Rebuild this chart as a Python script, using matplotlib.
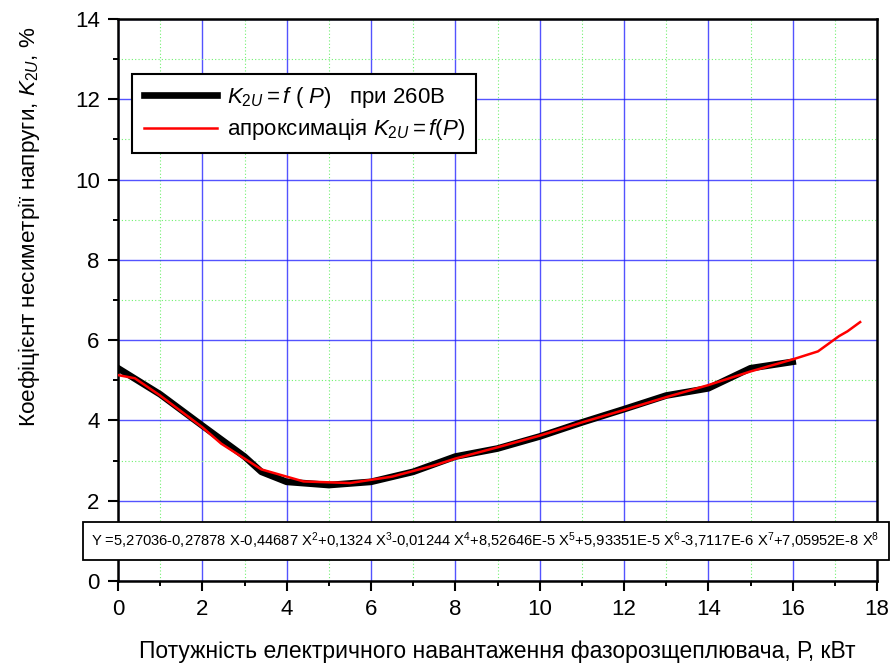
import matplotlib
matplotlib.use('Agg')
import matplotlib.pyplot as plt
from matplotlib.ticker import MultipleLocator

plt.rcParams['font.family'] = ['Liberation Sans', 'DejaVu Sans']
plt.rcParams['mathtext.fontset'] = 'custom'
plt.rcParams['mathtext.rm'] = 'Liberation Sans'
plt.rcParams['mathtext.it'] = 'Liberation Sans:italic'

# measured curve K2U = f(P) at 260 V
p_meas = [0, 1, 2, 3, 3.4, 4, 5, 6, 7, 8, 9, 10, 11, 12, 13, 14, 15, 16]
k_meas = [5.3, 4.65, 3.87, 3.1, 2.72, 2.47, 2.39, 2.47, 2.72, 3.1, 3.3, 3.6, 3.95, 4.28, 4.62, 4.8, 5.3, 5.46]

# polynomial approximation, as drawn
p_fit = [0, 0.4, 1, 2, 2.45, 3.4, 4.4, 5.5, 6.5, 7.5, 8, 9, 10, 11, 12, 13, 14, 15, 16, 16.6, 17.1, 17.3, 17.6]
k_fit = [5.13, 5.05, 4.62, 3.83, 3.42, 2.78, 2.48, 2.44, 2.6, 2.88, 3.05, 3.33, 3.62, 3.95, 4.26, 4.58, 4.88, 5.22, 5.52, 5.72, 6.1, 6.22, 6.45]

equation = (r"Y =5,27036-0,27878 X-0,44687 X$^2$+0,1324 X$^3$-0,01244 X$^4$+8,52646E-5 X$^5$"
            r"+5,93351E-5 X$^6$-3,7117E-6 X$^7$+7,05952E-8 X$^8$")

fig = plt.figure(figsize=(8.9, 6.68), dpi=100)
ax = fig.add_axes([118/890, 1 - 581/668, 759/890, 562/668])

ax.plot(p_meas, k_meas, color='black', lw=4.8, solid_joinstyle='round',
        label=r"$K_{2U}\mathit{=f\ (\ P)}$   при 260В", zorder=3)
ax.plot(p_fit, k_fit, color='red', lw=1.8,
        label=r"апроксимація $K_{2U}\mathit{=f(P)}$", zorder=4)

ax.set_xlim(0, 18)
ax.set_ylim(0, 14)
ax.xaxis.set_major_locator(MultipleLocator(2))
ax.xaxis.set_minor_locator(MultipleLocator(1))
ax.yaxis.set_major_locator(MultipleLocator(2))
ax.yaxis.set_minor_locator(MultipleLocator(1))

ax.grid(which='major', color='#1a1aff', lw=1.0, alpha=0.75, zorder=0)
ax.grid(which='minor', color='#70f070', lw=0.8, ls=(0, (1, 2)), zorder=0)
ax.set_axisbelow(True)

for s in ax.spines.values():
    s.set_linewidth(1.8)
ax.tick_params(which='major', direction='out', length=7.2, width=1.5, labelsize=16, pad=6)
ax.tick_params(which='minor', direction='out', length=3.8, width=1.4)

ax.set_xlabel("Потужність електричного навантаження фазорозщеплювача, Р, кВт", fontsize=16.5)
ax.xaxis.set_label_coords(0.5, -0.105)
ax.set_ylabel(r"Коефіцієнт несиметрії напруги, $K_{2U}$, %", fontsize=16.2)
ax.yaxis.set_label_coords(-0.1, 0.63)

leg = ax.legend(loc='upper left', bbox_to_anchor=(0.019, 0.903), fontsize=16,
                fancybox=False, framealpha=1, edgecolor='black', handlelength=3.3,
                handletextpad=0.45, borderpad=0.5, labelspacing=0.3, borderaxespad=0)
leg.get_frame().set_linewidth(1.5)

ax.text(-0.035, 0.071, equation, transform=ax.transAxes, fontsize=10.6,
        ha='left', va='center', clip_on=False, zorder=6,
        bbox=dict(boxstyle='square,pad=0.6', fc='white', ec='black', lw=1.3))

fig.savefig('out.png', dpi=100)
